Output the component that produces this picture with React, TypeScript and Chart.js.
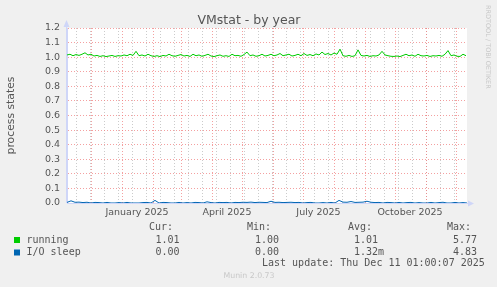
import React, { useEffect, useRef } from "react";
import { Chart, registerables } from "chart.js";

Chart.register(...registerables);

// x axis unit: days since 2024-11-01
const X_START = 5.5;
const X_END = 405.5;

const RUNNING_STEP = 3;
const runningValues = [
  1.015, 1.02, 1.01, 1.018, 1.012, 1.02, 1.03, 1.015, 1.02, 1.008,
  1.012, 1.005, 1.01, 1.004, 1.008, 1.012, 1.005, 1.01, 1.008, 1.015,
  1.01, 1.02, 1.012, 1.04, 1.01, 1.015, 1.008, 1.02, 1.01, 1.005,
  1.01, 1.004, 1.012, 1.008, 1.02, 1.01, 1.006, 1.012, 1.018, 1.008,
  1.012, 1.005, 1.02, 1.01, 1.015, 1.006, 1.012, 1.02, 1.008, 1.004,
  1.01, 1.015, 1.006, 1.01, 1.005, 1.02, 1.01, 1.012, 1.006, 1.018,
  1.035, 1.01, 1.015, 1.006, 1.01, 1.02, 1.008, 1.012, 1.02, 1.01,
  1.015, 1.025, 1.01, 1.015, 1.02, 1.008, 1.012, 1.02, 1.01, 1.025,
  1.012, 1.018, 1.01, 1.022, 1.015, 1.035, 1.018, 1.025, 1.015, 1.028,
  1.02, 1.055, 1.01, 1.006, 1.012, 1.005, 1.01, 1.05, 1.012, 1.008,
  1.012, 1.005, 1.01, 1.008, 1.015, 1.04, 1.015, 1.01, 1.006, 1.005,
  1.008, 1.004, 1.012, 1.02, 1.01, 1.015, 1.006, 1.02, 1.01, 1.008,
  1.012, 1.005, 1.01, 1.008, 1.012, 1.006, 1.02, 1.045, 1.01, 1.015,
  1.006, 1.005, 1.02, 1.01,
];

const IO_STEP = 4;
const ioSleepValues = [
  0.004, 0.015, 0.005, 0.006, 0.003, 0.005, 0, 0.004, 0.003, 0,
  0.004, 0, 0, 0.003, 0, 0.004, 0, 0, 0, 0.003,
  0.004, 0, 0.018, 0, 0.004, 0.003, 0, 0, 0.004, 0,
  0.003, 0, 0.004, 0.003, 0, 0.008, 0.003, 0, 0.004, 0.003,
  0.004, 0, 0.004, 0.003, 0.005, 0.004, 0.006, 0.003, 0.005, 0.004,
  0.003, 0.012, 0.004, 0.005, 0.003, 0.004, 0.005, 0.003, 0.004, 0,
  0.003, 0.004, 0, 0, 0.003, 0, 0.004, 0, 0.018, 0.006,
  0.005, 0.01, 0.004, 0.005, 0.006, 0.012, 0.005, 0.003, 0.004, 0,
  0.004, 0.003, 0, 0.004, 0, 0.003, 0.004, 0, 0.003, 0,
  0, 0.004, 0, 0.003, 0.005, 0, 0, 0.004, 0, 0.003, 0,
];

const monthStartDays = [30, 61, 92, 120, 151, 181, 212, 242, 273, 304, 334, 365, 395];
const minorGridDays = [
  14.5, 28.5, 42.5, 56.5, 70.5, 84.5, 98.5, 112.5, 126.5, 140.5, 154.5, 168.5, 182.5, 196.5,
  210.5, 224.5, 238.5, 252.5, 266.5, 280.5, 294.5, 308.5, 322.5, 336.5, 350.5, 364.5, 378.5, 392.5,
];
const monthLabels = ["January 2025", "April 2025", "July 2025", "October 2025"];
const monthLabelDays = [75.5, 165.5, 257, 348.5];

const yTickValues = [0, 0.1, 0.2, 0.3, 0.4, 0.5, 0.6, 0.7, 0.8, 0.9, 1.0, 1.1, 1.2];

const seriesNames = ["running", "I/O sleep"];
const seriesColors = ["#00CC00", "#0066B3"];
const curValues = ["1.01", "0.00"];
const minValues = ["1.00", "0.00"];
const avgValues = ["1.01", "1.32m"];
const maxValues = ["5.77", "4.83"];

const TITLE = "VMstat - by year";
const Y_TITLE = "process states";
const LAST_UPDATE = "Last update: Thu Dec 11 01:00:07 2025";
const FOOTER = "Munin 2.0.73";
const WATERMARK = "RRDTOOL / TOBI OETIKER";

const SANS = "'DejaVu Sans', sans-serif";
const MONO = "'DejaVu Sans Mono', monospace";
const TEXT = "#555555";

const GRID_MAJOR = "rgba(240,120,120,0.7)";
const GRID_MINOR = "rgba(140,140,140,0.45)";
const AXIS = "#CFD6F8";

function kindOf(v: number): string {
  if (monthStartDays.indexOf(v) >= 0) return "major";
  if (minorGridDays.indexOf(v) >= 0) return "minor";
  return "label";
}

const muninPlugin = {
  id: "munin",
  beforeDraw(chart: any) {
    const { ctx, chartArea: a } = chart;
    ctx.save();
    ctx.fillStyle = "#F0F0F0";
    ctx.fillRect(0, 0, chart.width, chart.height);
    ctx.fillStyle = "#FFFFFF";
    ctx.fillRect(a.left, a.top, a.right - a.left, a.bottom - a.top);
    ctx.restore();
  },
  afterDraw(chart: any) {
    const { ctx, chartArea: a } = chart;
    ctx.save();
    // axis extensions and arrows
    ctx.strokeStyle = AXIS;
    ctx.fillStyle = AXIS;
    ctx.lineWidth = 1;
    ctx.beginPath();
    ctx.moveTo(a.left - 0.5, a.bottom);
    ctx.lineTo(a.left - 0.5, a.top - 2);
    ctx.moveTo(a.right, a.bottom + 0.5);
    ctx.lineTo(a.right + 2, a.bottom + 0.5);
    ctx.stroke();
    ctx.beginPath();
    ctx.moveTo(a.left - 0.5, a.top - 8);
    ctx.lineTo(a.left - 3.5, a.top - 1);
    ctx.lineTo(a.left + 2.5, a.top - 1);
    ctx.closePath();
    ctx.fill();
    ctx.beginPath();
    ctx.moveTo(a.right + 7, a.bottom + 0.5);
    ctx.lineTo(a.right + 1, a.bottom - 2.5);
    ctx.lineTo(a.right + 1, a.bottom + 3.5);
    ctx.closePath();
    ctx.fill();

    // title
    ctx.fillStyle = TEXT;
    ctx.font = `12.5px ${SANS}`;
    ctx.textAlign = "center";
    ctx.textBaseline = "alphabetic";
    ctx.fillText(TITLE, 249, 24);

    // y title
    ctx.save();
    ctx.translate(11, (a.top + a.bottom) / 2);
    ctx.rotate(-Math.PI / 2);
    ctx.font = `10.8px ${SANS}`;
    ctx.textBaseline = "middle";
    ctx.fillText(Y_TITLE, 0, 0);
    ctx.restore();

    // watermark
    ctx.save();
    ctx.translate(487.5, 5);
    ctx.rotate(Math.PI / 2);
    ctx.fillStyle = "#C8C8C8";
    ctx.font = `6.5px ${SANS}`;
    ctx.textAlign = "left";
    ctx.textBaseline = "middle";
    ctx.fillText(WATERMARK, 0, 0);
    ctx.restore();

    // legend
    ctx.font = `10px ${MONO}`;
    ctx.textAlign = "left";
    ctx.textBaseline = "middle";
    ctx.fillStyle = TEXT;
    const headY = 227.5;
    ctx.fillText("Cur:", 149, headY);
    ctx.fillText("Min:", 247, headY);
    ctx.fillText("Avg:", 348, headY);
    ctx.fillText("Max:", 447, headY);
    const rowYs = [240, 252.5];
    for (let i = 0; i < seriesNames.length; i++) {
      const y = rowYs[i];
      ctx.fillStyle = seriesColors[i];
      ctx.fillRect(14, y - 3, 6, 6);
      ctx.fillStyle = TEXT;
      ctx.fillText(seriesNames[i], 26.5, y);
      ctx.fillText(curValues[i], 155.5, y);
      ctx.fillText(minValues[i], 255, y);
      ctx.fillText(avgValues[i], 354, y);
      ctx.fillText(maxValues[i], 453, y);
    }
    ctx.fillText(LAST_UPDATE, 262, 263.5);

    ctx.fillStyle = "#C8C8C8";
    ctx.font = `7.8px ${SANS}`;
    ctx.textAlign = "center";
    ctx.fillText(FOOTER, 249, 276);
    ctx.restore();
  },
};

export default function App() {
  const ref = useRef<HTMLCanvasElement | null>(null);

  useEffect(() => {
    if (!ref.current) return;
    const runningData = runningValues.map((v, i) => ({ x: X_START + i * RUNNING_STEP, y: v }));
    const ioData = ioSleepValues.map((v, i) => ({ x: X_START + i * IO_STEP, y: v }));
    const xTicks = [...minorGridDays, ...monthStartDays, ...monthLabelDays]
      .filter((v) => v >= X_START && v <= X_END)
      .sort((p, q) => p - q);

    const chart = new Chart(ref.current, {
      type: "line",
      data: {
        datasets: [
          {
            label: seriesNames[0],
            data: runningData,
            borderColor: seriesColors[0],
            borderWidth: 1,
            pointRadius: 0,
            tension: 0,
            fill: false,
          },
          {
            label: seriesNames[1],
            data: ioData,
            borderColor: seriesColors[1],
            borderWidth: 1,
            pointRadius: 0,
            tension: 0,
            fill: false,
          },
        ],
      },
      options: {
        animation: false,
        responsive: false,
        devicePixelRatio: 1,
        events: [],
        layout: { padding: { top: 28, right: 30, bottom: 0, left: 0 } },
        plugins: {
          legend: { display: false },
          title: { display: false },
          tooltip: { enabled: false },
        },
        scales: {
          x: {
            type: "linear",
            min: X_START,
            max: X_END,
            afterFit: (s: any) => {
              s.height = 84;
            },
            afterBuildTicks: (s: any) => {
              s.ticks = xTicks.map((v) => ({ value: v }));
            },
            ticks: {
              autoSkip: false,
              maxRotation: 0,
              padding: 4,
              color: TEXT,
              font: { family: "DejaVu Sans", size: 9.5 },
              callback: (v: any) => {
                const k = monthLabelDays.indexOf(Number(v));
                return k >= 0 ? monthLabels[k] : "";
              },
            },
            grid: {
              drawTicks: false,
              lineWidth: 1,
              color: (c: any) => {
                const v = c.tick ? c.tick.value : NaN;
                const kind = kindOf(v);
                if (kind === "major") return GRID_MAJOR;
                if (kind === "minor") return GRID_MINOR;
                return "rgba(0,0,0,0)";
              },
            },
            border: { display: true, color: AXIS, width: 1, dash: [1, 2] },
          },
          y: {
            type: "linear",
            min: 0,
            max: 1.2,
            afterFit: (s: any) => {
              s.width = 67;
            },
            afterBuildTicks: (s: any) => {
              s.ticks = yTickValues.map((v) => ({ value: v }));
            },
            ticks: {
              padding: 7,
              color: TEXT,
              font: { family: "DejaVu Sans", size: 9.5 },
              callback: (v: any) => Number(v).toFixed(1),
            },
            grid: {
              drawTicks: false,
              lineWidth: 1,
              color: GRID_MAJOR,
            },
            border: { display: true, color: AXIS, width: 1, dash: [1, 2] },
          },
        },
      },
      plugins: [muninPlugin],
    } as any);
    return () => chart.destroy();
  }, []);

  return (
    <div style={{ position: "absolute", left: 0, top: 0, width: 497, height: 287 }}>
      <canvas ref={ref} width={497} height={287} style={{ width: 497, height: 287, display: "block" }} />
    </div>
  );
}
